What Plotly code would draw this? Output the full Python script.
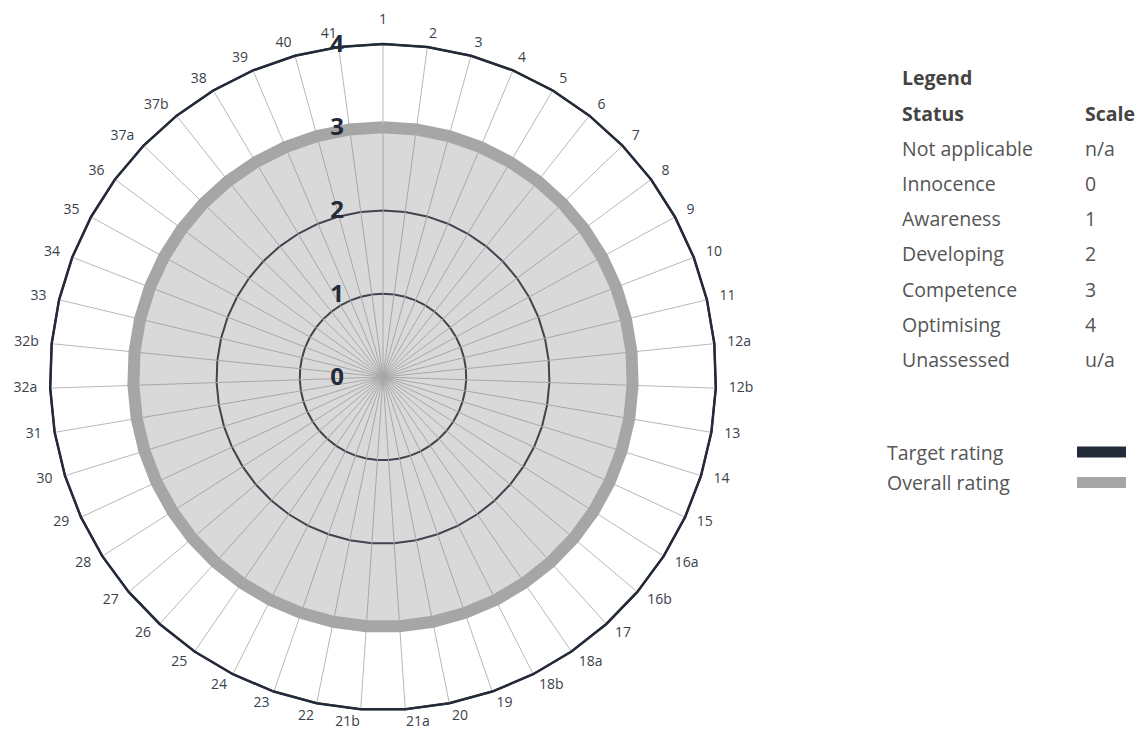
import plotly.graph_objects as go

categories = ["1", "2", "3", "4", "5", "6", "7", "8", "9", "10", "11", "12a", "12b",
              "13", "14", "15", "16a", "16b", "17", "18a", "18b", "19", "20", "21a", "21b",
              "22", "23", "24", "25", "26", "27", "28", "29", "30", "31", "32a", "32b",
              "33", "34", "35", "36", "37a", "37b", "38", "39", "40", "41"]
target_rating = [4, 4, 4, 4, 4, 4, 4, 4, 4, 4, 4, 4, 4, 4, 4, 4, 4, 4, 4, 4, 4, 4, 4, 4,
                 4, 4, 4, 4, 4, 4, 4, 4, 4, 4, 4, 4, 4, 4, 4, 4, 4, 4, 4, 4, 4, 4, 4]
overall_rating = [3, 3, 3, 3, 3, 3, 3, 3, 3, 3, 3, 3, 3, 3, 3, 3, 3, 3, 3, 3, 3, 3, 3, 3,
                  3, 3, 3, 3, 3, 3, 3, 3, 3, 3, 3, 3, 3, 3, 3, 3, 3, 3, 3, 3, 3, 3, 3]
radial_ticks = [0, 1, 2, 3, 4]
legend_status = ["Not applicable", "Innocence", "Awareness", "Developing",
                 "Competence", "Optimising", "Unassessed"]
legend_scale = ["n/a", "0", "1", "2", "3", "4", "u/a"]
series_names = ["Target rating", "Overall rating"]

DARK = "#232a38"
GREY = "#a6a6a6"
FONT = "Open Sans"
W, H = 1139, 729

def px(x):
    return x / W

def py(y):
    return 1 - y / H

cx, cy, R4 = 383, 377, 333        # centre and pixel radius of the scale value 4
SCALE_MAX = radial_ticks[-1]
unit = R4 / SCALE_MAX              # pixels per scale unit
LABEL_GAP = 13                     # px between outer polygon and category labels
TOP_GAP = 17
RANGE_MAX = SCALE_MAX + (TOP_GAP + 1) / unit
Rpx = RANGE_MAX * unit

# category label anchors (style only): just outside the outer polygon
n = len(categories)
label_r, label_pos = [], []
for i in range(n):
    ang = 360.0 * i / n
    if i == 0:
        label_r.append(SCALE_MAX + TOP_GAP / unit)
        label_pos.append("top center")
    else:
        label_r.append(SCALE_MAX + LABEL_GAP / unit)
        label_pos.append("middle right" if ang < 180 else "middle left")

# spokes from centre to the outer polygon
spoke_r, spoke_t = [], []
for c in categories:
    spoke_r += [0, SCALE_MAX, None]
    spoke_t += [c, c, None]

fig = go.Figure()
fig.add_trace(go.Scatterpolar(
    r=spoke_r, theta=spoke_t, mode="lines", line=dict(color="#b8b8b8", width=1),
    showlegend=False, hoverinfo="skip", connectgaps=False))
fig.add_trace(go.Scatterpolar(
    r=overall_rating + overall_rating[:1], theta=categories + categories[:1],
    mode="lines", fill="toself", fillcolor="rgba(128,128,128,0.3)",
    line=dict(color=GREY, width=12), name=series_names[1], showlegend=False,
    hoverinfo="skip"))
fig.add_trace(go.Scatterpolar(
    r=target_rating + target_rating[:1], theta=categories + categories[:1],
    mode="lines", line=dict(color=DARK, width=2.5), name=series_names[0],
    showlegend=False, hoverinfo="skip"))
fig.add_trace(go.Scatterpolar(
    r=label_r, theta=categories, mode="text", text=categories,
    textposition=label_pos, cliponaxis=False,
    textfont=dict(size=14, color="#3a3f4a", family=FONT),
    showlegend=False, hoverinfo="skip"))

fig.update_layout(
    width=W, height=H, margin=dict(l=0, r=0, t=0, b=0),
    paper_bgcolor="white", showlegend=False,
    font=dict(family=FONT, color="#3a3f4a"),
    polar=dict(
        domain=dict(x=[px(cx - Rpx), px(cx + Rpx)], y=[py(cy + Rpx), py(cy - Rpx)]),
        bgcolor="white",
        gridshape="linear",
        angularaxis=dict(
            type="category", direction="clockwise", rotation=90,
            categoryorder="array", categoryarray=categories,
            showline=False, ticks="", showticklabels=False, showgrid=False,
        ),
        radialaxis=dict(
            range=[0, RANGE_MAX], tickvals=radial_ticks, angle=90, tickangle=90,
            side="counterclockwise",
            showline=False, ticks="outside", ticklen=30, tickcolor="rgba(0,0,0,0)",
            gridcolor=DARK, gridwidth=2.2,
            tickfont=dict(size=24, color=DARK, family=FONT, weight="bold"),
            layer="above traces",
        ),
    ),
)

ann = []
X1, X2 = 900, 1083
FS = 19.5
ann.append(dict(x=px(X1), y=py(78), text="<b>Legend</b>", xanchor="left", yanchor="middle",
                font=dict(size=FS, color="#444", family=FONT)))
ann.append(dict(x=px(X1), y=py(113), text="<b>Status</b>", xanchor="left", yanchor="middle",
                font=dict(size=FS, color="#444", family=FONT)))
ann.append(dict(x=px(X2), y=py(113), text="<b>Scale</b>", xanchor="left", yanchor="middle",
                font=dict(size=FS, color="#444", family=FONT)))
for i, (s, v) in enumerate(zip(legend_status, legend_scale)):
    yy = 148 + i * 35.3
    ann.append(dict(x=px(X1), y=py(yy), text=s, xanchor="left", yanchor="middle",
                    font=dict(size=FS, color="#555", family=FONT)))
    ann.append(dict(x=px(X2), y=py(yy), text=v, xanchor="left", yanchor="middle",
                    font=dict(size=FS, color="#555", family=FONT)))
for i, (nm, col) in enumerate(zip(series_names, [DARK, GREY])):
    yy = 452 + i * 30.5
    ann.append(dict(x=px(885), y=py(yy), text=nm, xanchor="left", yanchor="middle",
                    font=dict(size=FS, color="#555", family=FONT)))
    fig.add_shape(type="rect", xref="paper", yref="paper",
                  x0=px(1077), x1=px(1126), y0=py(yy - 5.5), y1=py(yy + 5.5),
                  fillcolor=col, line=dict(width=0))
for a in ann:
    a.update(xref="paper", yref="paper", showarrow=False)
fig.update_layout(annotations=ann)

fig.write_html("out.html", config={"displayModeBar": False},
               post_script="document.body.style.margin='0';")
